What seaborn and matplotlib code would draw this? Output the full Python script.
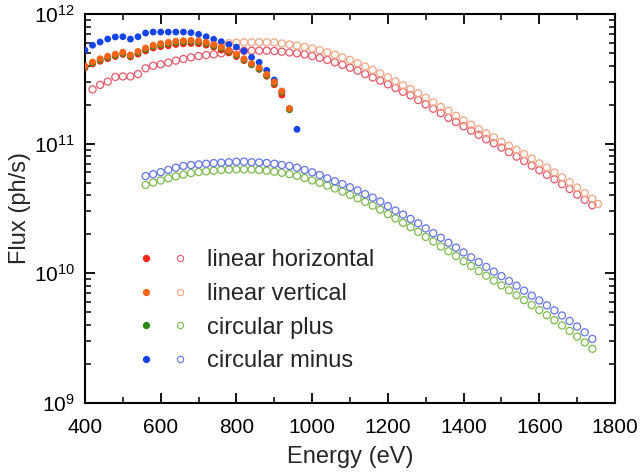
import numpy as np
import pandas as pd
import matplotlib
matplotlib.use("Agg")
import matplotlib.pyplot as plt
from matplotlib.lines import Line2D
from matplotlib.legend_handler import HandlerTuple
from matplotlib.ticker import LogLocator, LogFormatterMathtext, MultipleLocator
import seaborn as sns

# ---------------- data ----------------
# filled symbols (energies in eV, flux in units of 1e11 ph/s)
e_filled = [400, 420, 440, 460, 480, 500, 520, 540, 560, 580, 600, 620, 640, 660,
            680, 700, 720, 740, 760, 780, 800, 820, 840, 860, 880, 900, 920, 940]
e_filled_cm = e_filled + [960]

lh_filled = [3.85, 4.12, 4.32, 4.52, 4.70, 4.88, 4.66, 4.90, 5.19, 5.47, 5.60, 5.69, 5.82, 5.89,
             5.92, 5.89, 5.75, 5.56, 5.27, 5.01, 4.70, 4.37, 4.07, 3.74, 3.31, 2.85, 2.37, 1.84]
lv_filled = [3.98, 4.27, 4.52, 4.73, 4.90, 5.07, 4.84, 5.15, 5.47, 5.75, 5.92, 6.05, 6.17, 6.24,
             6.27, 6.21, 6.05, 5.82, 5.56, 5.25, 4.90, 4.52, 4.15, 3.85, 3.43, 2.99, 2.55, 1.87]
cp_filled = [3.92, 4.19, 4.43, 4.64, 4.80, 4.97, 4.75, 5.05, 5.36, 5.64, 5.80, 5.93, 6.05, 6.12,
             6.15, 6.09, 5.93, 5.70, 5.45, 5.15, 4.80, 4.43, 4.07, 3.77, 3.36, 2.93, 2.50, 1.83]
cm_filled = [5.27, 5.74, 6.08, 6.41, 6.65, 6.68, 6.41, 6.68, 7.13, 7.26, 7.26, 7.26, 7.26, 7.26,
             7.18, 6.97, 6.68, 6.38, 6.12, 5.83, 5.56, 5.19, 4.63, 4.24, 3.68, 3.10, 2.49, 1.86, 1.29]

# open symbols
e_lh_open = [420, 440, 460, 480, 500, 520, 540, 560, 580, 600, 620, 640, 660, 680, 700,
             720, 740, 760, 780, 800, 820, 840, 860, 880, 900, 920, 940, 960, 980, 1000,
             1020, 1040, 1060, 1080, 1100, 1120, 1140, 1160, 1180, 1200, 1220, 1240, 1260,
             1280, 1300, 1320, 1340, 1360, 1380, 1400, 1420, 1440, 1460, 1480, 1500, 1520,
             1540, 1560, 1580, 1600, 1620, 1640, 1660, 1680, 1700, 1720, 1740]
lh_open = [2.62, 2.84, 3.01, 3.27, 3.30, 3.30, 3.44, 3.81, 3.99, 4.09, 4.22, 4.37, 4.50, 4.63, 4.74,
           4.82, 4.88, 4.98, 5.13, 5.18, 5.20, 5.21, 5.21, 5.21, 5.18, 5.12, 5.05, 4.98, 4.88, 4.74,
           4.59, 4.42, 4.24, 4.05, 3.85, 3.66, 3.44, 3.24, 3.06, 2.87, 2.69, 2.51, 2.36,
           2.17, 2.01, 1.86, 1.72, 1.58, 1.47, 1.36, 1.26, 1.17, 1.08, 1.007, 0.933, 0.861,
           0.794, 0.735, 0.676, 0.624, 0.575, 0.531, 0.488, 0.447, 0.405, 0.369, 0.335]

e_lv_open = [760, 780, 800, 820, 840, 860, 880, 900, 920, 940, 960, 980, 1000,
             1020, 1040, 1060, 1080, 1100, 1120, 1140, 1160, 1180, 1200, 1220, 1240, 1260,
             1280, 1300, 1320, 1340, 1360, 1380, 1400, 1420, 1440, 1460, 1480, 1500, 1520,
             1540, 1560, 1580, 1600, 1620, 1640, 1660, 1680, 1700, 1720, 1740, 1755]
lv_open = [5.86, 5.96, 6.01, 6.05, 6.05, 6.05, 6.05, 6.03, 5.92, 5.82, 5.70, 5.58, 5.43,
           5.26, 5.06, 4.86, 4.63, 4.42, 4.17, 3.93, 3.70, 3.48, 3.25, 3.03, 2.82, 2.64,
           2.45, 2.26, 2.08, 1.92, 1.79, 1.64, 1.51, 1.40, 1.29, 1.20, 1.12, 1.03, 0.962,
           0.895, 0.832, 0.767, 0.705, 0.653, 0.600, 0.551, 0.505, 0.459, 0.415, 0.376, 0.343]

# circular open symbols (flux in units of 1e10 ph/s)
e_c_open = [560, 580, 600, 620, 640, 660, 680, 700, 720, 740, 760, 780, 800, 820, 840,
            860, 880, 900, 920, 940, 960, 980, 1000, 1020, 1040, 1060, 1080, 1100, 1120,
            1140, 1160, 1180, 1200, 1220, 1240, 1260, 1280, 1300, 1320, 1340, 1360, 1380,
            1400, 1420, 1440, 1460, 1480, 1500, 1520, 1540, 1560, 1580, 1600, 1620, 1640,
            1660, 1680, 1700, 1720, 1740]
cm_open = [5.62, 5.81, 6.03, 6.28, 6.52, 6.73, 6.84, 6.92, 7.00, 7.08, 7.13, 7.19, 7.26, 7.26, 7.19,
           7.16, 7.10, 7.00, 6.85, 6.73, 6.53, 6.27, 6.01, 5.73, 5.40, 5.13, 4.88, 4.61, 4.36,
           4.08, 3.84, 3.58, 3.30, 3.05, 2.84, 2.63, 2.43, 2.22, 2.04, 1.88, 1.72, 1.58,
           1.45, 1.33, 1.22, 1.12, 1.03, 0.951, 0.873, 0.802, 0.735, 0.673, 0.618, 0.566, 0.518,
           0.473, 0.429, 0.389, 0.351, 0.312]
cp_open = [4.80, 5.01, 5.20, 5.41, 5.60, 5.77, 5.93, 6.04, 6.12, 6.19, 6.27, 6.32, 6.34, 6.34, 6.31,
           6.27, 6.18, 6.08, 5.96, 5.82, 5.65, 5.43, 5.21, 4.99, 4.75, 4.51, 4.27, 4.03, 3.79,
           3.56, 3.33, 3.10, 2.86, 2.65, 2.45, 2.27, 2.09, 1.91, 1.76, 1.61, 1.48, 1.36,
           1.24, 1.14, 1.04, 0.959, 0.879, 0.807, 0.740, 0.678, 0.621, 0.569, 0.520, 0.475, 0.435,
           0.396, 0.360, 0.325, 0.293, 0.262]

labels = ["linear horizontal", "linear vertical", "circular plus", "circular minus"]
filled_colors = ["#FF2418", "#FF6418", "#2E8A14", "#1444E6"]
open_colors = ["#E4586A", "#F4A582", "#7DBA4E", "#6474E4"]

# ---------------- style ----------------
sns.set_theme(style="white")
plt.rcParams["font.family"] = ["Liberation Sans", "DejaVu Sans"]
plt.rcParams["mathtext.fontset"] = "custom"
plt.rcParams["mathtext.rm"] = "Liberation Sans"
plt.rcParams["mathtext.it"] = "Liberation Sans:italic"
plt.rcParams["mathtext.bf"] = "Liberation Sans:bold"

fig = plt.figure(figsize=(6.4, 4.73), dpi=100)
ax = fig.add_axes([85 / 640, 1 - 403 / 473, 530 / 640, 389 / 473])

def frame(e, f, scale, name):
    return pd.DataFrame({"Energy": e, "Flux": np.asarray(f) * scale, "series": name})

open_sets = [
    (frame(e_lh_open, lh_open, 1e11, labels[0]), open_colors[0]),
    (frame(e_lv_open, lv_open, 1e11, labels[1]), open_colors[1]),
    (frame(e_c_open, cp_open, 1e10, labels[2]), open_colors[2]),
    (frame(e_c_open, cm_open, 1e10, labels[3]), open_colors[3]),
]
for df, c in open_sets:
    sns.scatterplot(data=df, x="Energy", y="Flux", ax=ax, marker="o", s=26,
                    facecolor="none", edgecolor=c, linewidth=0.9, legend=False, zorder=2)

filled_sets = [
    (frame(e_filled_cm, cm_filled, 1e11, labels[3]), filled_colors[3]),
    (frame(e_filled, lh_filled, 1e11, labels[0]), filled_colors[0]),
    (frame(e_filled, cp_filled, 1e11, labels[2]), filled_colors[2]),
    (frame(e_filled, lv_filled, 1e11, labels[1]), filled_colors[1]),
]
for df, c in filled_sets:
    sns.scatterplot(data=df, x="Energy", y="Flux", ax=ax, marker="o", s=24,
                    color=c, edgecolor="none", linewidth=0, legend=False, zorder=3)

ax.set_yscale("log")
ax.set_xlim(400, 1800)
ax.set_ylim(1e9, 1e12)
ax.xaxis.set_major_locator(MultipleLocator(200))
ax.xaxis.set_minor_locator(MultipleLocator(100))
ax.yaxis.set_major_locator(LogLocator(base=10, numticks=10))
ax.yaxis.set_minor_locator(LogLocator(base=10, subs=np.arange(2, 10), numticks=20))
ax.yaxis.set_major_formatter(LogFormatterMathtext())

ax.tick_params(which="both", direction="in", top=True, right=True, bottom=True, left=True,
               colors="black", labelsize=15)
ax.tick_params(which="major", length=7, width=1.3)
ax.tick_params(which="minor", length=4, width=1.1)
ax.tick_params(axis="x", which="major", pad=11)
ax.tick_params(axis="y", which="major", pad=7)
for s in ax.spines.values():
    s.set_linewidth(1.5)
    s.set_color("black")

ax.set_xlabel("Energy (eV)", fontsize=17, labelpad=6)
ax.set_ylabel("Flux (ph/s)", fontsize=17, labelpad=2)

handles = []
for fc, oc in zip(filled_colors, open_colors):
    h1 = Line2D([], [], marker="o", linestyle="none", markersize=4.2,
                markerfacecolor=fc, markeredgecolor=fc)
    h2 = Line2D([], [], marker="o", linestyle="none", markersize=4.5,
                markerfacecolor="none", markeredgecolor=oc, markeredgewidth=0.8)
    handles.append((h1, h2))

ax.legend(handles, labels, handler_map={tuple: HandlerTuple(ndivide=None, pad=0.85)},
          loc="center left", bbox_to_anchor=(0.103, 0.237), frameon=False,
          fontsize=17, handlelength=2.0, handletextpad=0.85, labelspacing=0.49,
          borderpad=0, borderaxespad=0)

fig.savefig("out.png", dpi=100)
